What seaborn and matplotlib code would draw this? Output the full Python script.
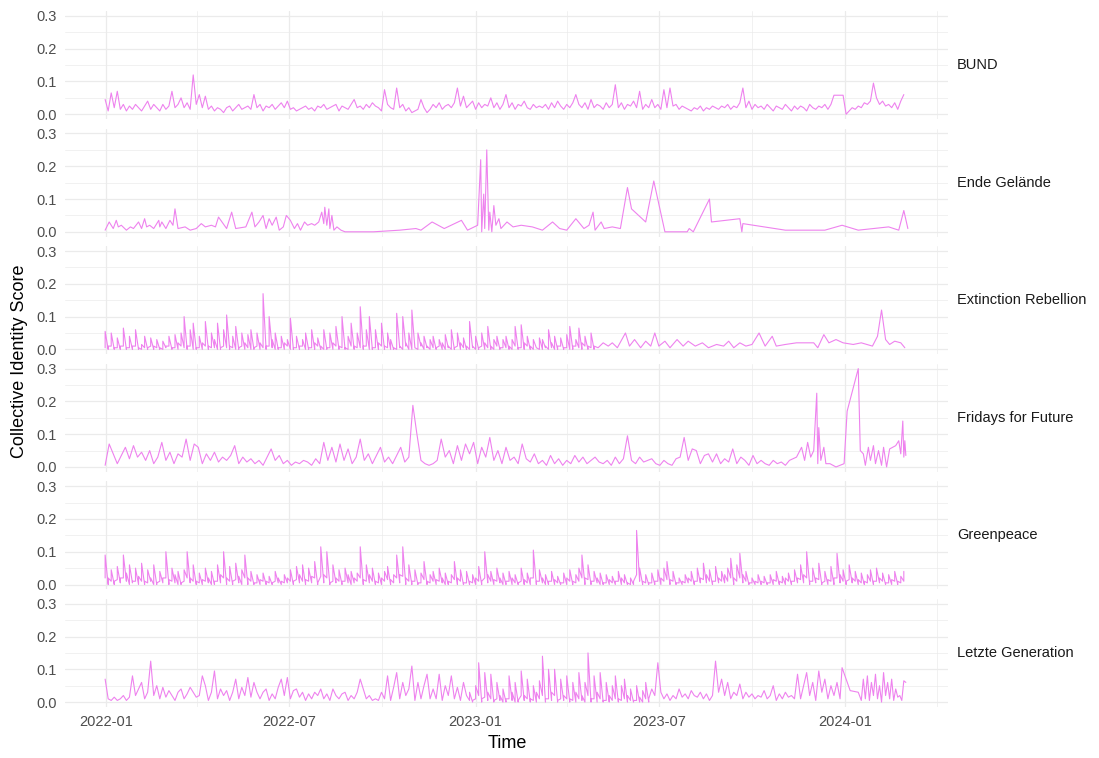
import pandas as pd
import matplotlib
matplotlib.use("Agg")
import matplotlib.pyplot as plt
import matplotlib.dates as mdates
from matplotlib.ticker import FixedLocator
import seaborn as sns

# Collective identity score over time, one panel per organisation
start = pd.Timestamp("2022-01-01")
organisations = ["BUND", "Ende Gelände", "Extinction Rebellion",
                 "Fridays for Future", "Greenpeace", "Letzte Generation"]

# BUND: every third day from 2021-12-31
bund_days = list(range(-1, 791, 3))
bund_vals = [
    0.045, 0.01, 0.065, 0.02, 0.07, 0.015, 0.03, 0.01, 0.025, 0.015, 0.03, 0.02,
    0.01, 0.025, 0.04, 0.015, 0.03, 0.02, 0.01, 0.03, 0.015, 0.025, 0.07, 0.02,
    0.03, 0.05, 0.02, 0.035, 0.015, 0.12, 0.03, 0.06, 0.02, 0.055, 0.015, 0.025,
    0.01, 0.02, 0.015, 0.005, 0.02, 0.025, 0.01, 0.02, 0.03, 0.015, 0.02, 0.025,
    0.015, 0.06, 0.02, 0.03, 0.01, 0.025, 0.02, 0.03, 0.015, 0.025, 0.035, 0.02,
    0.04, 0.015, 0.02, 0.01, 0.015, 0.02, 0.025, 0.015, 0.02, 0.01, 0.025, 0.02,
    0.03, 0.015, 0.02, 0.025, 0.03, 0.01, 0.025, 0.02, 0.015, 0.03, 0.045, 0.02,
    0.025, 0.015, 0.03, 0.02, 0.035, 0.025, 0.02, 0.01, 0.075, 0.03, 0.02, 0.015,
    0.08, 0.02, 0.03, 0.01, 0.02, 0.005, 0.01, 0.015, 0.045, 0.02, 0.005, 0.015,
    0.03, 0.02, 0.035, 0.015, 0.025, 0.03, 0.02, 0.035, 0.08, 0.025, 0.055, 0.02,
    0.03, 0.04, 0.015, 0.035, 0.02, 0.03, 0.025, 0.05, 0.02, 0.035, 0.015, 0.03,
    0.06, 0.02, 0.035, 0.015, 0.03, 0.025, 0.04, 0.02, 0.015, 0.03, 0.02, 0.025,
    0.02, 0.03, 0.015, 0.035, 0.02, 0.04, 0.025, 0.015, 0.03, 0.02, 0.035, 0.06,
    0.03, 0.02, 0.035, 0.015, 0.045, 0.02, 0.03, 0.025, 0.015, 0.035, 0.02, 0.03,
    0.09, 0.02, 0.035, 0.015, 0.03, 0.025, 0.04, 0.02, 0.07, 0.015, 0.03, 0.02,
    0.045, 0.02, 0.03, 0.015, 0.075, 0.02, 0.08, 0.025, 0.03, 0.015, 0.025, 0.02,
    0.015, 0.01, 0.02, 0.015, 0.025, 0.01, 0.02, 0.015, 0.025, 0.02, 0.015, 0.025,
    0.02, 0.03, 0.015, 0.025, 0.02, 0.035, 0.08, 0.02, 0.04, 0.015, 0.03, 0.02,
    0.025, 0.015, 0.03, 0.02, 0.01, 0.025, 0.02, 0.015, 0.03, 0.02, 0.01, 0.025,
    0.015, 0.025, 0.02, 0.01, 0.03, 0.02, 0.015, 0.025, 0.02, 0.03, 0.015, 0.03,
    0.058, 0.058, 0.058, 0.058, 0.0, 0.01, 0.02, 0.015, 0.025, 0.02, 0.035, 0.03,
    0.04, 0.095, 0.05, 0.03, 0.04, 0.025, 0.03, 0.02, 0.035, 0.015, 0.04, 0.06,
]

# Ende Gelände: irregular posting days
eg_days = [
    -1, 3, 7, 10, 12, 15, 20, 24, 27, 32,
    35, 38, 40, 43, 47, 52, 53, 55, 59, 63,
    66, 68, 71, 78, 83, 89, 94, 98, 104, 108,
    111, 119, 124, 128, 138, 144, 147, 151, 155, 158,
    161, 164, 168, 171, 175, 178, 182, 186, 189, 192,
    196, 199, 203, 206, 210, 213, 215, 216, 218, 220,
    221, 223, 225, 228, 232, 236, 264, 290, 306, 311,
    322, 334, 351, 357, 367, 370, 371, 373, 374, 376,
    378, 379, 381, 383, 385, 388, 390, 396, 402, 410,
    421, 431, 441, 448, 455, 464, 472, 477, 481, 483,
    489, 492, 500, 508, 515, 519, 533, 541, 552, 574,
    576, 580, 596, 598, 626, 628, 629, 671, 710, 727,
    743, 773, 783, 788, 792,
]
eg_vals = [
    0.005, 0.03, 0.01, 0.035, 0.015, 0.02, 0.005, 0.015, 0.01, 0.03,
    0.01, 0.04, 0.015, 0.02, 0.01, 0.035, 0.015, 0.03, 0.01, 0.035,
    0.02, 0.07, 0.01, 0.015, 0.005, 0.01, 0.025, 0.015, 0.02, 0.015,
    0.045, 0.01, 0.06, 0.01, 0.015, 0.06, 0.015, 0.03, 0.05, 0.01,
    0.04, 0.02, 0.045, 0.005, 0.015, 0.05, 0.035, 0.01, 0.025, 0.005,
    0.03, 0.02, 0.025, 0.02, 0.03, 0.06, 0.025, 0.075, 0.02, 0.07,
    0.01, 0.05, 0.005, 0.015, 0.005, 0.0, 0.0, 0.005, 0.01, 0.005,
    0.03, 0.01, 0.035, 0.005, 0.02, 0.22, 0.0, 0.115, 0.01, 0.25,
    0.005, 0.06, 0.0, 0.08, 0.02, 0.04, 0.01, 0.03, 0.015, 0.02,
    0.015, 0.005, 0.03, 0.01, 0.005, 0.04, 0.01, 0.02, 0.06, 0.005,
    0.03, 0.01, 0.015, 0.01, 0.135, 0.07, 0.03, 0.155, 0.0, 0.0,
    0.01, 0.0, 0.1, 0.03, 0.04, 0.0, 0.025, 0.005, 0.005, 0.02,
    0.005, 0.015, 0.005, 0.065, 0.01,
]

# Extinction Rebellion: dense until spring 2023, sparse afterwards
xr_days = list(range(-1, 485, 3)) + [
    486, 491, 496, 500, 505, 513, 517, 522, 528, 533,
    538, 542, 546, 552, 557, 564, 570, 575, 582, 589,
    595, 603, 610, 615, 620, 626, 632, 638, 645, 651,
    658, 662, 671, 682, 699, 703, 709, 714, 721, 728,
    738, 746, 757, 762, 766, 770, 774, 779, 785, 789,
]
xr_vals = [
    0.055, 0.01, 0.05, 0.005, 0.035, 0.01, 0.065, 0.005, 0.04, 0.01, 0.06, 0.005,
    0.015, 0.04, 0.005, 0.035, 0.01, 0.03, 0.005, 0.025, 0.01, 0.04, 0.005, 0.045,
    0.02, 0.05, 0.1, 0.01, 0.06, 0.08, 0.005, 0.04, 0.02, 0.085, 0.01, 0.05,
    0.03, 0.08, 0.005, 0.06, 0.105, 0.01, 0.04, 0.07, 0.005, 0.05, 0.02, 0.045,
    0.06, 0.005, 0.05, 0.02, 0.17, 0.01, 0.1, 0.03, 0.05, 0.005, 0.04, 0.02,
    0.03, 0.095, 0.005, 0.04, 0.01, 0.03, 0.05, 0.005, 0.06, 0.02, 0.035, 0.01,
    0.06, 0.005, 0.05, 0.02, 0.07, 0.01, 0.1, 0.005, 0.04, 0.08, 0.01, 0.05,
    0.13, 0.01, 0.06, 0.1, 0.005, 0.06, 0.02, 0.08, 0.01, 0.05, 0.03, 0.005,
    0.11, 0.01, 0.1, 0.02, 0.05, 0.12, 0.005, 0.05, 0.02, 0.04, 0.01, 0.03,
    0.04, 0.005, 0.03, 0.02, 0.045, 0.01, 0.06, 0.005, 0.05, 0.02, 0.035, 0.01,
    0.085, 0.01, 0.04, 0.005, 0.05, 0.02, 0.07, 0.01, 0.03, 0.04, 0.005, 0.03,
    0.04, 0.01, 0.03, 0.07, 0.005, 0.075, 0.02, 0.04, 0.01, 0.03, 0.005, 0.035,
    0.03, 0.005, 0.06, 0.02, 0.04, 0.01, 0.035, 0.005, 0.045, 0.07, 0.01, 0.03,
    0.065, 0.02, 0.04, 0.01, 0.05, 0.01,
    0.005, 0.02, 0.01, 0.02, 0.005, 0.05, 0.01, 0.03, 0.005, 0.025,
    0.01, 0.05, 0.01, 0.025, 0.005, 0.03, 0.01, 0.025, 0.01, 0.02,
    0.005, 0.015, 0.01, 0.025, 0.005, 0.02, 0.01, 0.015, 0.05, 0.01,
    0.04, 0.01, 0.015, 0.02, 0.02, 0.005, 0.045, 0.02, 0.03, 0.02,
    0.015, 0.02, 0.01, 0.04, 0.12, 0.03, 0.015, 0.025, 0.02, 0.005,
]
# second (lowest) post on the same days in the dense period
xr_low_days = list(range(-1, 485, 3))
xr_low_vals = [
    0.005, 0.0, 0.01, 0.0, 0.005, 0.0, 0.01, 0.0, 0.005, 0.0, 0.01, 0.0,
    0.0, 0.005, 0.0, 0.01, 0.0, 0.005, 0.0, 0.0, 0.005, 0.01, 0.0, 0.005,
    0.0, 0.01, 0.005, 0.0, 0.01, 0.0, 0.0, 0.005, 0.0, 0.01, 0.0, 0.005,
    0.005, 0.0, 0.0, 0.01, 0.005, 0.0, 0.005, 0.0, 0.0, 0.01, 0.0, 0.005,
    0.0, 0.0, 0.01, 0.0, 0.005, 0.0, 0.01, 0.005, 0.0, 0.0, 0.005, 0.0,
    0.01, 0.0, 0.0, 0.005, 0.0, 0.01, 0.0, 0.0, 0.005, 0.0, 0.01, 0.0,
    0.0, 0.0, 0.005, 0.0, 0.01, 0.0, 0.005, 0.0, 0.0, 0.01, 0.0, 0.005,
    0.005, 0.0, 0.01, 0.0, 0.0, 0.005, 0.0, 0.01, 0.0, 0.005, 0.0, 0.0,
    0.0, 0.005, 0.0, 0.01, 0.0, 0.0, 0.005, 0.0, 0.01, 0.0, 0.005, 0.0,
    0.005, 0.0, 0.01, 0.0, 0.0, 0.005, 0.0, 0.0, 0.01, 0.0, 0.005, 0.0,
    0.0, 0.005, 0.0, 0.0, 0.01, 0.0, 0.005, 0.0, 0.0, 0.01, 0.0, 0.005,
    0.005, 0.0, 0.0, 0.01, 0.0, 0.005, 0.0, 0.01, 0.0, 0.0, 0.005, 0.0,
    0.0, 0.01, 0.0, 0.005, 0.0, 0.0, 0.01, 0.0, 0.005, 0.0, 0.0, 0.01,
    0.005, 0.0, 0.01, 0.0, 0.005, 0.0,
]

# Fridays for Future: every fourth day, then irregular from late 2023
fff_days = list(range(-1, 676, 4)) + [
    682, 687, 690, 693, 696, 699, 702, 703, 704, 706,
    709, 711, 715, 721, 729, 732, 743, 745, 748, 750,
    753, 755, 758, 760, 763, 766, 768, 771, 774, 777,
    780, 783, 785, 787, 788, 789, 790,
]
fff_vals = [
    0.005, 0.07, 0.04, 0.01, 0.035, 0.06, 0.025, 0.065, 0.03, 0.045,
    0.02, 0.05, 0.01, 0.03, 0.075, 0.02, 0.045, 0.01, 0.04, 0.03,
    0.085, 0.02, 0.07, 0.06, 0.01, 0.04, 0.02, 0.045, 0.015, 0.03,
    0.02, 0.035, 0.065, 0.01, 0.03, 0.015, 0.025, 0.01, 0.02, 0.005,
    0.03, 0.055, 0.02, 0.035, 0.01, 0.02, 0.005, 0.015, 0.01, 0.02,
    0.015, 0.005, 0.025, 0.01, 0.075, 0.02, 0.06, 0.015, 0.07, 0.02,
    0.055, 0.01, 0.03, 0.085, 0.02, 0.04, 0.01, 0.035, 0.06, 0.015,
    0.03, 0.01, 0.035, 0.06, 0.015, 0.03, 0.188, 0.1, 0.02, 0.01,
    0.005, 0.01, 0.02, 0.085, 0.03, 0.05, 0.01, 0.065, 0.02, 0.07,
    0.04, 0.075, 0.01, 0.06, 0.03, 0.09, 0.02, 0.05, 0.01, 0.06,
    0.02, 0.03, 0.01, 0.07, 0.025, 0.015, 0.04, 0.01, 0.02, 0.005,
    0.035, 0.01, 0.025, 0.005, 0.02, 0.01, 0.035, 0.015, 0.03, 0.01,
    0.02, 0.03, 0.015, 0.01, 0.02, 0.005, 0.03, 0.01, 0.025, 0.095,
    0.02, 0.01, 0.03, 0.015, 0.02, 0.025, 0.01, 0.005, 0.02, 0.01,
    0.005, 0.025, 0.03, 0.09, 0.02, 0.055, 0.05, 0.01, 0.035, 0.04,
    0.015, 0.04, 0.01, 0.025, 0.015, 0.055, 0.01, 0.03, 0.02, 0.005,
    0.035, 0.01, 0.02, 0.01, 0.005, 0.02, 0.01, 0.015, 0.005, 0.02,
    0.03, 0.06, 0.02, 0.075, 0.03, 0.05, 0.225, 0.01, 0.12, 0.02,
    0.06, 0.01, 0.01, 0.0, 0.01, 0.17, 0.3, 0.05, 0.04, 0.005,
    0.06, 0.02, 0.065, 0.01, 0.05, 0.005, 0.06, 0.0, 0.055, 0.06,
    0.065, 0.08, 0.04, 0.14, 0.03, 0.08, 0.035,
]

# Greenpeace: every third day, highest and lowest post
gp_days = list(range(-1, 791, 3))
gp_vals = [
    0.09, 0.02, 0.045, 0.01, 0.055, 0.02, 0.09, 0.035, 0.06, 0.01, 0.05, 0.025,
    0.065, 0.01, 0.045, 0.02, 0.06, 0.005, 0.04, 0.02, 0.1, 0.015, 0.05, 0.03,
    0.04, 0.005, 0.045, 0.1, 0.02, 0.06, 0.01, 0.035, 0.015, 0.05, 0.02, 0.04,
    0.01, 0.06, 0.03, 0.1, 0.02, 0.055, 0.01, 0.065, 0.025, 0.045, 0.09, 0.02,
    0.04, 0.005, 0.03, 0.015, 0.035, 0.01, 0.025, 0.005, 0.04, 0.02, 0.01, 0.03,
    0.02, 0.045, 0.01, 0.055, 0.03, 0.06, 0.015, 0.05, 0.025, 0.07, 0.005, 0.115,
    0.03, 0.1, 0.005, 0.06, 0.02, 0.045, 0.01, 0.05, 0.03, 0.04, 0.02, 0.035,
    0.115, 0.015, 0.06, 0.03, 0.05, 0.01, 0.035, 0.02, 0.04, 0.055, 0.015, 0.03,
    0.09, 0.03, 0.115, 0.02, 0.06, 0.01, 0.045, 0.005, 0.035, 0.07, 0.01, 0.03,
    0.04, 0.015, 0.05, 0.02, 0.035, 0.01, 0.03, 0.07, 0.02, 0.045, 0.005, 0.04,
    0.01, 0.03, 0.02, 0.055, 0.01, 0.1, 0.03, 0.04, 0.015, 0.05, 0.02, 0.035,
    0.01, 0.04, 0.02, 0.03, 0.005, 0.05, 0.015, 0.035, 0.02, 0.105, 0.01, 0.045,
    0.02, 0.03, 0.01, 0.04, 0.015, 0.025, 0.005, 0.035, 0.02, 0.045, 0.01, 0.03,
    0.05, 0.09, 0.02, 0.06, 0.01, 0.04, 0.02, 0.035, 0.005, 0.03, 0.015, 0.025,
    0.01, 0.04, 0.02, 0.03, 0.005, 0.02, 0.01, 0.165, 0.05, 0.01, 0.03, 0.005,
    0.035, 0.01, 0.045, 0.02, 0.05, 0.07, 0.015, 0.04, 0.005, 0.02, 0.01, 0.03,
    0.02, 0.04, 0.01, 0.05, 0.02, 0.065, 0.03, 0.045, 0.01, 0.055, 0.02, 0.04,
    0.03, 0.05, 0.08, 0.02, 0.06, 0.095, 0.03, 0.04, 0.005, 0.02, 0.01, 0.03,
    0.01, 0.025, 0.005, 0.03, 0.015, 0.04, 0.01, 0.025, 0.02, 0.035, 0.01, 0.045,
    0.02, 0.06, 0.03, 0.1, 0.01, 0.05, 0.02, 0.065, 0.005, 0.04, 0.015, 0.055,
    0.02, 0.095, 0.03, 0.045, 0.01, 0.06, 0.02, 0.04, 0.015, 0.035, 0.01, 0.03,
    0.045, 0.01, 0.05, 0.02, 0.035, 0.005, 0.03, 0.015, 0.04, 0.01, 0.025, 0.04,
]
gp_low_days = list(range(-1, 791, 3))
gp_low_vals = [
    0.02, 0.0, 0.01, 0.0, 0.015, 0.005, 0.02, 0.01, 0.0, 0.005, 0.01, 0.0,
    0.01, 0.0, 0.005, 0.01, 0.0, 0.0, 0.01, 0.005, 0.02, 0.0, 0.01, 0.005,
    0.0, 0.0, 0.01, 0.02, 0.005, 0.01, 0.0, 0.005, 0.0, 0.01, 0.005, 0.0,
    0.0, 0.01, 0.005, 0.02, 0.0, 0.01, 0.0, 0.015, 0.005, 0.0, 0.02, 0.0,
    0.01, 0.0, 0.005, 0.0, 0.01, 0.0, 0.005, 0.0, 0.01, 0.005, 0.0, 0.005,
    0.005, 0.01, 0.0, 0.015, 0.005, 0.01, 0.0, 0.01, 0.005, 0.02, 0.0, 0.025,
    0.005, 0.02, 0.0, 0.01, 0.005, 0.01, 0.0, 0.01, 0.005, 0.0, 0.005, 0.01,
    0.02, 0.0, 0.01, 0.005, 0.01, 0.0, 0.005, 0.0, 0.01, 0.015, 0.0, 0.005,
    0.02, 0.005, 0.025, 0.0, 0.01, 0.0, 0.01, 0.0, 0.005, 0.015, 0.0, 0.005,
    0.01, 0.0, 0.01, 0.005, 0.0, 0.0, 0.005, 0.015, 0.0, 0.01, 0.0, 0.005,
    0.0, 0.005, 0.0, 0.01, 0.0, 0.02, 0.005, 0.01, 0.0, 0.01, 0.005, 0.0,
    0.0, 0.01, 0.0, 0.005, 0.0, 0.01, 0.0, 0.005, 0.0, 0.02, 0.0, 0.01,
    0.005, 0.0, 0.0, 0.01, 0.0, 0.005, 0.0, 0.005, 0.0, 0.01, 0.0, 0.005,
    0.01, 0.02, 0.0, 0.015, 0.0, 0.01, 0.005, 0.0, 0.0, 0.005, 0.0, 0.005,
    0.0, 0.01, 0.0, 0.005, 0.0, 0.0, 0.0, 0.03, 0.01, 0.0, 0.005, 0.0,
    0.005, 0.0, 0.01, 0.0, 0.01, 0.015, 0.0, 0.01, 0.0, 0.005, 0.0, 0.005,
    0.005, 0.01, 0.0, 0.01, 0.005, 0.015, 0.005, 0.01, 0.0, 0.01, 0.005, 0.01,
    0.005, 0.01, 0.02, 0.0, 0.01, 0.02, 0.005, 0.01, 0.0, 0.005, 0.0, 0.005,
    0.0, 0.005, 0.0, 0.005, 0.0, 0.01, 0.0, 0.005, 0.0, 0.01, 0.0, 0.01,
    0.005, 0.015, 0.005, 0.02, 0.0, 0.01, 0.005, 0.015, 0.0, 0.01, 0.0, 0.01,
    0.0, 0.02, 0.005, 0.01, 0.0, 0.015, 0.005, 0.01, 0.0, 0.005, 0.0, 0.005,
    0.01, 0.0, 0.01, 0.005, 0.01, 0.0, 0.005, 0.0, 0.01, 0.0, 0.005, 0.01,
]

# Letzte Generation: every third day, then irregular from late December 2023
lg_days = list(range(-1, 719, 3)) + [
    719, 722, 725, 727, 735, 743, 746, 748, 750, 752,
    754, 756, 758, 760, 762, 764, 766, 768, 770, 772,
    774, 776, 778, 780, 782, 784, 786, 788, 790,
]
lg_vals = [
    0.07, 0.01, 0.005, 0.015, 0.005, 0.01, 0.02, 0.005, 0.015, 0.08, 0.02, 0.04,
    0.06, 0.01, 0.03, 0.125, 0.02, 0.05, 0.01, 0.045, 0.015, 0.035, 0.02, 0.005,
    0.03, 0.04, 0.01, 0.025, 0.045, 0.03, 0.015, 0.02, 0.08, 0.05, 0.005, 0.03,
    0.095, 0.01, 0.04, 0.02, 0.035, 0.005, 0.03, 0.07, 0.01, 0.045, 0.02, 0.075,
    0.015, 0.06, 0.03, 0.01, 0.03, 0.04, 0.005, 0.025, 0.01, 0.045, 0.07, 0.02,
    0.075, 0.01, 0.035, 0.04, 0.015, 0.03, 0.005, 0.025, 0.01, 0.03, 0.02, 0.04,
    0.01, 0.025, 0.005, 0.04, 0.02, 0.01, 0.025, 0.03, 0.005, 0.02, 0.01, 0.03,
    0.07, 0.04, 0.01, 0.02, 0.005, 0.01, 0.005, 0.03, 0.01, 0.08, 0.005, 0.045,
    0.09, 0.01, 0.06, 0.02, 0.04, 0.11, 0.005, 0.06, 0.01, 0.05, 0.085, 0.01,
    0.04, 0.01, 0.085, 0.005, 0.05, 0.02, 0.08, 0.01, 0.045, 0.005, 0.06, 0.02,
    0.03, 0.005, 0.05, 0.12, 0.01, 0.09, 0.03, 0.085, 0.005, 0.06, 0.02, 0.04,
    0.01, 0.08, 0.03, 0.06, 0.005, 0.095, 0.02, 0.07, 0.01, 0.05, 0.03, 0.065,
    0.14, 0.01, 0.1, 0.03, 0.1, 0.005, 0.07, 0.02, 0.08, 0.01, 0.06, 0.03,
    0.09, 0.02, 0.06, 0.15, 0.01, 0.08, 0.03, 0.09, 0.005, 0.06, 0.02, 0.05,
    0.08, 0.01, 0.05, 0.07, 0.02, 0.04, 0.005, 0.05, 0.015, 0.035, 0.06, 0.01,
    0.04, 0.02, 0.12, 0.03, 0.01, 0.025, 0.005, 0.02, 0.01, 0.04, 0.015, 0.025,
    0.01, 0.035, 0.02, 0.015, 0.03, 0.01, 0.025, 0.005, 0.02, 0.125, 0.03, 0.07,
    0.02, 0.06, 0.01, 0.03, 0.02, 0.055, 0.01, 0.03, 0.015, 0.025, 0.01, 0.02,
    0.015, 0.035, 0.01, 0.02, 0.05, 0.005, 0.025, 0.01, 0.03, 0.015, 0.02, 0.01,
    0.085, 0.01, 0.05, 0.09, 0.02, 0.06, 0.005, 0.095, 0.03, 0.07, 0.01, 0.05,
    0.02, 0.06, 0.01, 0.105, 0.035, 0.03, 0.005, 0.07, 0.01, 0.08,
    0.005, 0.06, 0.02, 0.085, 0.01, 0.05, 0.0, 0.09, 0.02, 0.06,
    0.01, 0.07, 0.005, 0.04, 0.015, 0.02, 0.005, 0.065, 0.06,
]
# lowest post per day, busy first half of 2023
lg_low_days = list(range(359, 539, 3))
lg_low_vals = [
    0.005, 0.0, 0.01, 0.02, 0.0, 0.015, 0.005, 0.01, 0.0, 0.01, 0.005, 0.0,
    0.0, 0.01, 0.005, 0.0, 0.0, 0.02, 0.005, 0.01, 0.0, 0.005, 0.0, 0.01,
    0.02, 0.0, 0.01, 0.005, 0.02, 0.0, 0.01, 0.005, 0.01, 0.0, 0.005, 0.0,
    0.01, 0.005, 0.0, 0.02, 0.0, 0.01, 0.0, 0.01, 0.0, 0.005, 0.0, 0.005,
    0.01, 0.0, 0.005, 0.01, 0.0, 0.005, 0.0, 0.005, 0.0, 0.0, 0.01, 0.0,
]

series = [
    ("BUND", bund_days, bund_vals),
    ("Ende Gelände", eg_days, eg_vals),
    ("Extinction Rebellion", xr_days, xr_vals),
    ("Extinction Rebellion", xr_low_days, xr_low_vals),
    ("Fridays for Future", fff_days, fff_vals),
    ("Greenpeace", gp_days, gp_vals),
    ("Greenpeace", gp_low_days, gp_low_vals),
    ("Letzte Generation", lg_days, lg_vals),
    ("Letzte Generation", lg_low_days, lg_low_vals),
]

frames = []
for org, days, vals in series:
    n = min(len(days), len(vals))
    if len(days) != len(vals):
        print("length mismatch", org, len(days), len(vals))
    frames.append(pd.DataFrame({
        "org": org,
        "date": start + pd.to_timedelta(days[:n], unit="D"),
        "score": vals[:n],
    }))
df = pd.concat(frames, ignore_index=True)

sns.set_theme(style="white")
plt.rcParams["font.family"] = ["Liberation Sans", "DejaVu Sans"]

W, H = 1099, 758
fig, axes = plt.subplots(6, 1, figsize=(W / 100, H / 100), dpi=100, sharex=True)
fig.subplots_adjust(left=65 / W, right=948 / W, top=1 - 11 / H, bottom=1 - 707 / H, hspace=0.087)

# ggplot-like 5% expansion of the data range
x0, x1 = df["date"].min(), df["date"].max()
xpad = (x1 - x0) * 0.05
ymax = df["score"].max()
ypad = ymax * 0.05

for ax, org in zip(axes, organisations):
    sub = df[df["org"] == org]
    sns.lineplot(data=sub, x="date", y="score", ax=ax, color="violet",
                 linewidth=0.8, estimator=None)
    ax.set_xlim(x0 - xpad, x1 + xpad)
    ax.set_ylim(-ypad, ymax + ypad)
    ax.set_yticks([0.0, 0.1, 0.2, 0.3])
    ax.set_yticklabels(["0.0", "0.1", "0.2", "0.3"])
    ax.yaxis.set_minor_locator(FixedLocator([0.05, 0.15, 0.25]))
    ax.xaxis.set_major_locator(mdates.MonthLocator(bymonth=[1, 7]))
    ax.xaxis.set_minor_locator(mdates.MonthLocator(bymonth=[4, 10]))
    ax.xaxis.set_major_formatter(mdates.DateFormatter("%Y-%m"))
    ax.grid(which="major", color="#EBEBEB", linewidth=0.9)
    ax.grid(which="minor", color="#EBEBEB", linewidth=0.5)
    ax.set_axisbelow(True)
    for s in ax.spines.values():
        s.set_visible(False)
    ax.tick_params(which="both", length=0, labelsize=10.5, labelcolor="#4D4D4D")
    ax.tick_params(axis="y", pad=6)
    ax.tick_params(axis="x", pad=6)
    ax.set_xlabel("")
    ax.set_ylabel("")
    ax.text(1.0102, 0.5, org, transform=ax.transAxes, ha="left", va="center",
            fontsize=10.5, color="#1A1A1A")

fig.text(20 / W, 1 - 361 / H, "Collective Identity Score", rotation=90,
         ha="center", va="center", fontsize=13, color="black")
fig.text(507 / W, 1 - 744 / H, "Time", ha="center", va="center",
         fontsize=13, color="black")

fig.savefig("out.png", dpi=100, facecolor="white")
